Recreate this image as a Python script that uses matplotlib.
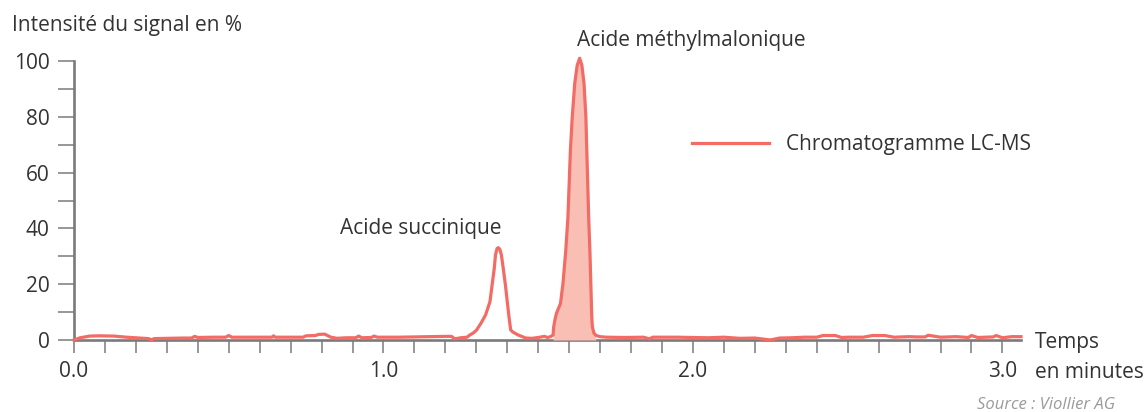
import matplotlib
matplotlib.use("Agg")
import matplotlib.pyplot as plt
from matplotlib.ticker import MultipleLocator, FixedLocator
import numpy as np

# ---- data ----
time_min = [0.00, 0.02, 0.05, 0.08, 0.13, 0.17, 0.20, 0.24, 0.25, 0.26, 0.30, 0.35,
            0.38, 0.39, 0.40, 0.45, 0.49, 0.50, 0.51, 0.58, 0.64, 0.645, 0.65, 0.70,
            0.74, 0.75, 0.78, 0.79, 0.81, 0.83, 0.85, 0.88, 0.91, 0.92, 0.93, 0.96,
            0.97, 0.98, 1.05, 1.10, 1.15, 1.20, 1.22, 1.23, 1.25, 1.27, 1.279, 1.290,
            1.301, 1.315, 1.330, 1.344, 1.351, 1.358, 1.362, 1.367, 1.371, 1.376,
            1.381, 1.387, 1.394, 1.400, 1.405, 1.411, 1.419, 1.435, 1.46, 1.48, 1.50,
            1.52, 1.53, 1.540, 1.548, 1.550, 1.554, 1.559, 1.572, 1.580, 1.589,
            1.596, 1.600, 1.604, 1.610, 1.618, 1.626, 1.634, 1.641, 1.648, 1.654,
            1.657, 1.660, 1.663, 1.667, 1.670, 1.673, 1.675, 1.680, 1.686, 1.699,
            1.72, 1.78, 1.84, 1.86, 1.87, 1.95, 2.00, 2.05, 2.10, 2.15, 2.20, 2.23,
            2.25, 2.28, 2.32, 2.36, 2.40, 2.42, 2.46, 2.48, 2.50, 2.55, 2.58, 2.62,
            2.65, 2.70, 2.72, 2.75, 2.76, 2.80, 2.85, 2.89, 2.90, 2.92, 2.95, 2.97,
            2.98, 3.00, 3.03, 3.06]
signal_pct = [0.0, 0.8, 1.4, 1.5, 1.4, 1.0, 0.8, 0.5, 0.1, 0.5, 0.6, 0.7,
              0.7, 1.3, 0.9, 1.0, 1.0, 1.6, 1.0, 1.0, 1.0, 1.5, 1.0, 1.0,
              1.0, 1.5, 1.6, 2.0, 2.1, 1.0, 0.6, 0.8, 0.8, 1.4, 0.8, 0.9,
              1.4, 1.0, 1.0, 1.1, 1.2, 1.3, 1.3, 0.4, 0.8, 1.0, 1.8, 2.5,
              3.6, 6.0, 9.0, 13.7, 19.7, 25.7, 30.5, 32.8, 33.1, 32.5,
              30.5, 25.7, 19.7, 13.7, 8.8, 3.6, 2.8, 1.8, 0.7, 0.6, 0.9,
              1.3, 0.9, 1.2, 1.8, 4.7, 7.2, 9.6, 13.1, 20.3, 32.0,
              44.0, 56.0, 68.0, 80.0, 92.0, 98.5, 101.0, 98.5, 92.0, 80.0,
              68.0, 56.0, 44.0, 32.0, 20.3, 8.4, 4.7, 2.5, 1.7, 1.2,
              1.0, 0.9, 1.0, 0.4, 1.0, 1.0, 0.9, 0.8, 1.0, 0.6, 0.7, 0.3,
              0.0, 0.7, 0.8, 1.0, 1.0, 1.6, 1.6, 0.9, 1.0, 1.0, 1.6, 1.6,
              1.0, 1.2, 1.1, 1.1, 1.7, 1.0, 1.2, 0.9, 1.6, 0.9, 1.0, 1.1,
              1.6, 0.8, 1.2, 1.2]
fill_start, fill_end = 1.548, 1.686

x_major = [0.0, 1.0, 2.0, 3.0]
x_labels = ["0.0", "1.0", "2.0", "3.0"]
y_major = [0, 20, 40, 60, 80, 100]

LINE = "#f26b64"
FILL = "#f9beb4"
AXIS = "#7a7a7a"
TEXT = "#333333"
FONT = ["Open Sans", "DejaVu Sans"]
FS = 15

plt.rcParams["font.family"] = FONT

fig = plt.figure(figsize=(11.46, 4.12), dpi=100)
ax = fig.add_axes([74 / 1146, 72 / 412, 947 / 1146, 279 / 412])

t = np.array(time_min)
s = np.array(signal_pct)
mask = (t >= fill_start) & (t <= fill_end)
ax.fill_between(t[mask], 0, s[mask], color=FILL, lw=0, zorder=2)
ax.plot(t, s, color=LINE, lw=2.3, zorder=3, clip_on=False, solid_joinstyle="round",
        label="Chromatogramme LC-MS")

ax.set_xlim(0, 3.06)
ax.set_ylim(0, 100)

for side in ["top", "right"]:
    ax.spines[side].set_visible(False)
for side in ["left", "bottom"]:
    ax.spines[side].set_color(AXIS)
    ax.spines[side].set_linewidth(1.9)
    ax.spines[side].set_zorder(1)

ax.xaxis.set_major_locator(FixedLocator(x_major))
ax.set_xticklabels(x_labels)
ax.xaxis.set_minor_locator(MultipleLocator(0.1))
ax.yaxis.set_major_locator(FixedLocator(y_major))
ax.yaxis.set_minor_locator(MultipleLocator(10))

ax.tick_params(axis="x", which="both", length=9, width=1.1, color=AXIS,
               labelsize=FS, labelcolor=TEXT, pad=6)
ax.tick_params(axis="y", which="both", length=11.5, width=1.1, color=AXIS,
               labelsize=FS, labelcolor=TEXT, pad=6)

ax.text(1.121, 40.1, "Acide succinique", ha="center", va="center",
        fontsize=FS, color=TEXT)
ax.text(1.996, 107.5, "Acide méthylmalonique", ha="center", va="center",
        fontsize=FS, color=TEXT, clip_on=False)

ax.text(3.104, -1.0, "Temps", ha="left", va="center", fontsize=FS, color=TEXT,
        clip_on=False)
ax.text(3.104, -11.5, "en minutes", ha="left", va="center", fontsize=FS,
        color=TEXT, clip_on=False)

fig.text(12 / 1146, 1 - 25 / 412, "Intensité du signal en %", ha="left",
         va="center", fontsize=FS, color=TEXT)
fig.text(1115 / 1146, 1 - 405 / 412, "Source : Viollier AG", ha="right",
         va="center", fontsize=12, color="#9a9a9a", style="italic")

leg = ax.legend(loc="center left", bbox_to_anchor=((692 - 74) / 947, 0.699),
                frameon=False, borderpad=0, borderaxespad=0, handlelength=3.7,
                handletextpad=0.8, fontsize=FS)
for txt in leg.get_texts():
    txt.set_color(TEXT)

fig.savefig("out.png", dpi=100)
